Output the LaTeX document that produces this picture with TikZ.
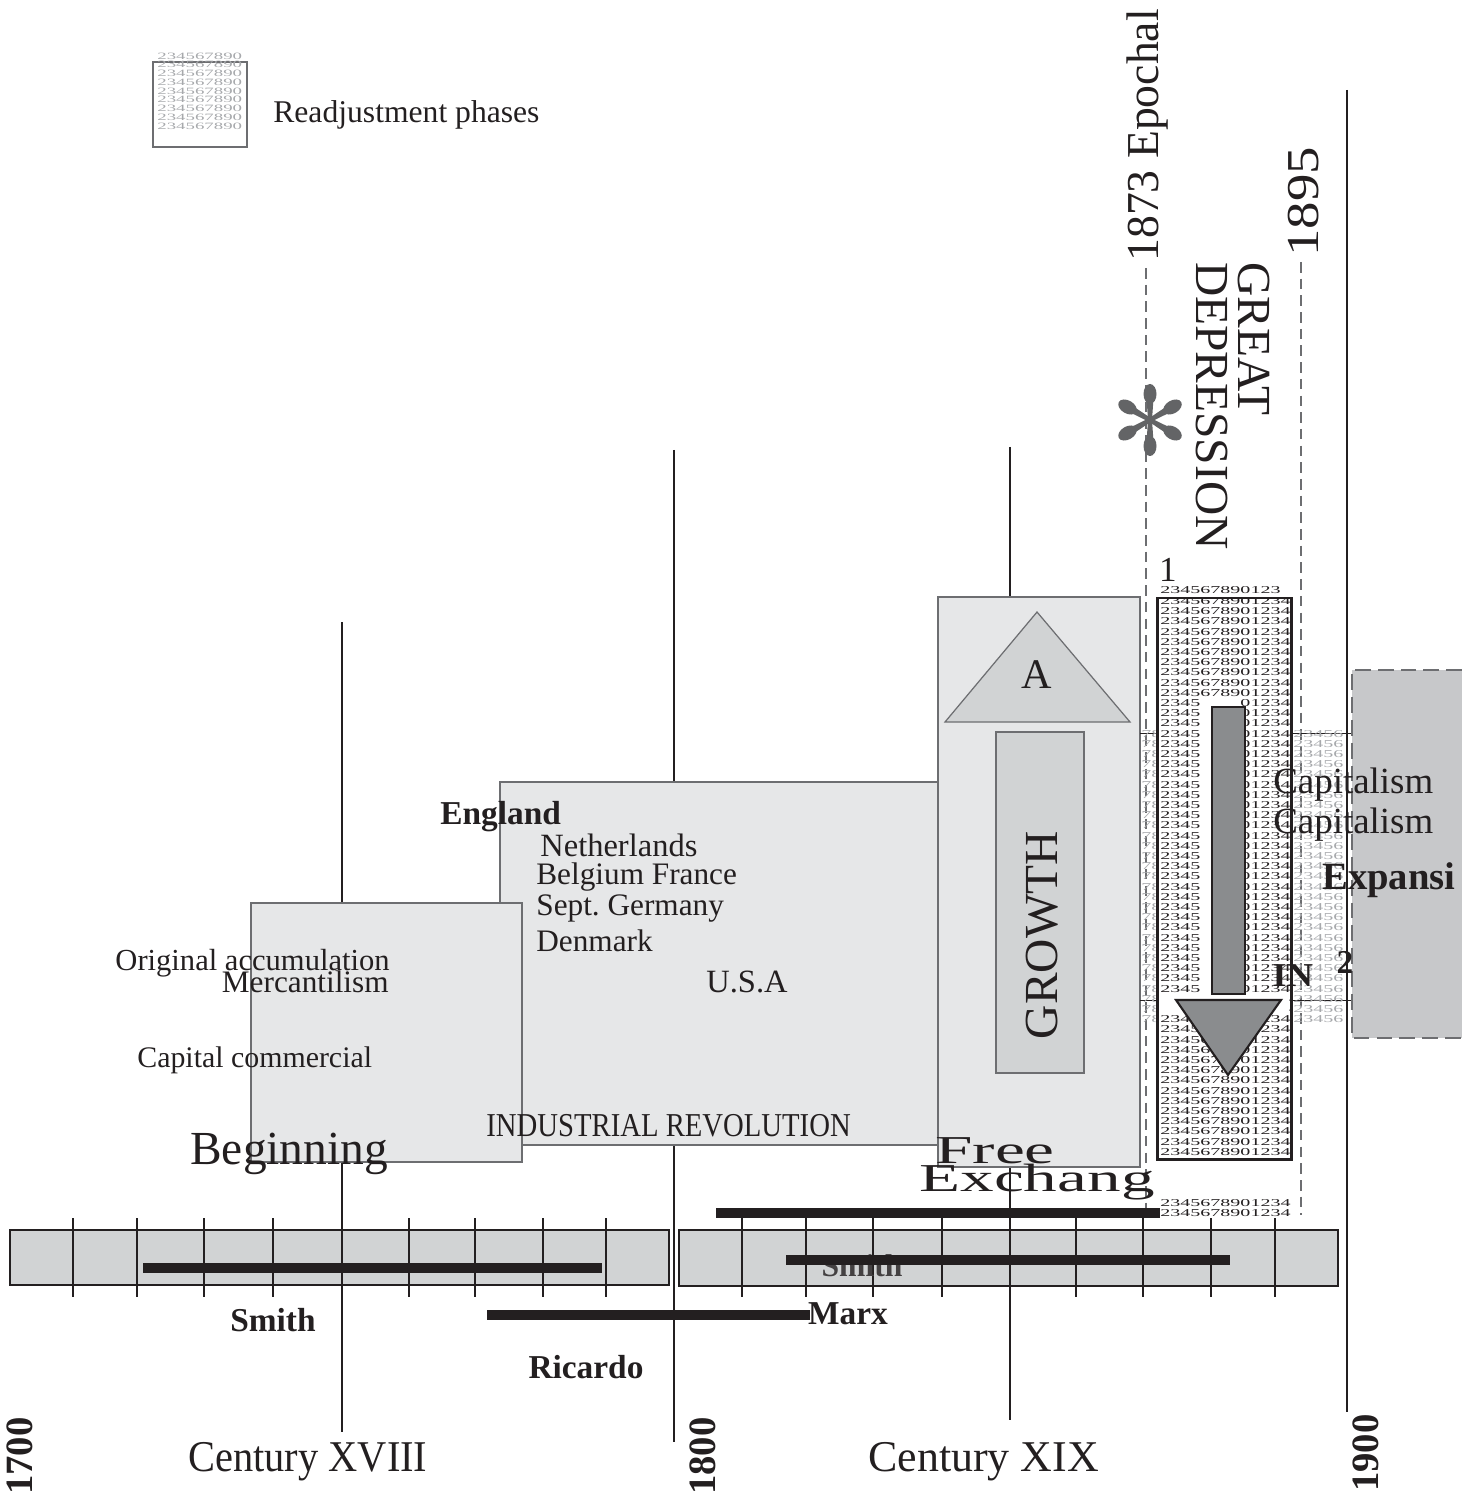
\documentclass[tikz,border=0pt]{standalone}
\usepackage{fontspec}
\setmainfont{Liberation Serif}
\newcommand{\fsz}[1]{\fontsize{#1}{#1}\selectfont}
\newcommand{\wide}[2]{\scalebox{#1}[1]{#2}}
\definecolor{boxfill}{HTML}{E6E7E8}
\definecolor{barfill}{HTML}{D1D3D4}
\definecolor{edgegrey}{HTML}{6D6E71}
\definecolor{ink}{HTML}{231F20}
\definecolor{darkfill}{HTML}{8A8C8E}
\definecolor{capfill}{HTML}{C7C8CA}
\definecolor{hatchgrey}{HTML}{A7A9AC}
\definecolor{stargrey}{HTML}{636466}
\begin{document}
\begin{tikzpicture}[x=0.02cm, y=-0.02cm,
  txt/.style={inner sep=0pt, text=ink},
  guide/.style={ink, line width=0.7pt},
  panel/.style={draw=edgegrey, line width=0.7pt, fill=boxfill},
  innerpanel/.style={draw=edgegrey, line width=0.7pt, fill=barfill},
  era/.style={draw=ink, line width=1.6pt, fill=barfill},
  tick/.style={ink, line width=0.6pt},
  majortick/.style={ink, line width=1.6pt},
  lifespan/.style={ink, line width=5.6pt},
  datum/.style={edgegrey, line width=0.8pt, dash pattern=on 6pt off 3.5pt},
  hatchrow/.style={inner sep=0pt, anchor=west, font=\fsz{6}, text=ink},
  hatchfaint/.style={inner sep=0pt, anchor=west, font=\fsz{6}, text=hatchgrey},
  legendrow/.style={inner sep=0pt, anchor=west, font=\fsz{5.5}, text=hatchgrey},
  bigname/.style={txt, font=\fsz{19}\bfseries},
]
\useasboundingbox (0,0) rectangle (1462,1506);

% ---------- legend ----------
\draw[edgegrey, line width=0.8pt] (153,62) rectangle (247,147);
\foreach \i in {0,...,8}
  \node[legendrow] (leg\i) at (157,{56+8.75*\i}) {\wide{1.95}{234567890}};
\node[txt, anchor=west, font=\fsz{18}] (legtext) at (273,115) {Readjustment phases};

% ---------- century guide lines ----------
\draw[guide] (342,622) -- (342,1432);
\draw[guide] (674,450) -- (674,1442);
\draw[guide] (1010,447) -- (1010,1420);
\draw[guide] (1347,90) -- (1347,1412);

% ---------- phases ----------
\draw[panel] (500,782) rectangle (938,1145);
\draw[panel] (251,903) rectangle (522,1162);
\draw[panel] (938,597) rectangle (1140,1167);
\draw[innerpanel] (945,722) -- (1037,612) -- (1130,722) -- cycle;
\node[txt, font=\fsz{24}] (upA) at (1037,675) {A};
\draw[innerpanel] (996,732) rectangle (1084,1073);
\node[txt, rotate=90, font=\fsz{27}] (growth) at (1042,935) {GROWTH};

% ---------- 1873 / 1895 markers ----------
\draw[datum] (1146,268) -- (1146,1218);
\draw[datum] (1301,262) -- (1301,1215);
\node[txt, rotate=90, anchor=base west, font=\fsz{26}] (epochal) at (1158,262) {1873 Epochal};
\node[txt, rotate=90, anchor=base west, font=\fsz{26}] (y1895) at (1318,257) {\wide{1.2}{1895}};
\node[txt, rotate=-90, anchor=base west, font=\fsz{27}] (great) at (1238,262) {GREAT};
\node[txt, rotate=-90, anchor=base west, font=\fsz{27}] (depression) at (1196,262) {DEPRESSION};

% asterisk on the 1873 line
\begin{scope}[shift={(1150,420)}]
  \foreach \a in {90,30,-30,-90,-150,150} {
    \fill[stargrey, rotate=\a] (0,-2) -- (22,-3.5) -- (22,3.5) -- (0,2) -- cycle;
    \fill[stargrey, rotate=\a] (26,0) ellipse [x radius=10, y radius=6.5];
  }
  \fill[stargrey] (0,0) circle [radius=4];
\end{scope}

% ---------- faint readjustment band ----------
\draw[ink, line width=0.5pt] (1140,733) -- (1352,733);
\draw[ink, line width=0.5pt] (1140,1000) -- (1352,1000);
\foreach \i in {13,...,41} {
  \node[hatchfaint] (fl\i) at (1141,{601+10.2*\i}) {\wide{1.9}{78}};
  \node[hatchfaint] (fr\i) at (1293,{601+10.2*\i}) {\wide{1.9}{23456}};
}

% ---------- first readjustment phase ----------
\node[txt, font=\fsz{20}] (one) at (1168,570) {1};
\node[hatchrow] (toprow) at (1160,590) {\wide{1.9}{234567890123}};
\fill[white] (1157,598) rectangle (1291,1159);
\foreach \i in {0,...,54}
  \node[hatchrow] (r\i) at (1160,{601+10.2*\i}) {\wide{1.9}{2345678901234}};
\fill[white] (1201,697) rectangle (1240,996);
\fill[white] (1159,993) rectangle (1289,1014);
\draw[ink, line width=1.7pt] (1157,598) rectangle (1291,1159);
\draw[ink, line width=1.2pt, fill=darkfill] (1212,707) rectangle (1245,994);
\draw[ink, line width=1.2pt, fill=darkfill] (1176,1000) -- (1281,1000) -- (1228,1075) -- cycle;
\node[hatchrow] (low1) at (1160,1203) {\wide{1.9}{2345678901234}};
\node[hatchrow] (low2) at (1160,1213) {\wide{1.9}{2345678901234}};

% ---------- capitalism expansion ----------
\fill[capfill] (1352,670) rectangle (1462,1038);
\draw[edgegrey, line width=0.8pt, dash pattern=on 9pt off 4pt] (1462,670) -- (1352,670) -- (1352,1038) -- (1462,1038);
\node[txt, anchor=west, font=\fsz{21}] (cap1) at (1273,785) {Capitalism};
\node[txt, anchor=west, font=\fsz{21}] (cap2) at (1273,825) {Capitalism};
\node[txt, anchor=west, font=\fsz{22}\bfseries] (expansi) at (1322,880) {Expansi};
\node[txt, font=\fsz{19}\bfseries] (two) at (1345,962) {2};
\node[txt, anchor=west, font=\fsz{19}\bfseries] (inlbl) at (1272,976) {\wide{1.1}{IN}};

% ---------- labels of the phases ----------
\node[txt, anchor=west, font=\fsz{19}\bfseries] (england) at (440,817) {England};
\node[txt, anchor=west, font=\fsz{18.5}] (nl) at (540,845) {Netherlands};
\node[txt, anchor=west, font=\fsz{17.8}] (be) at (536,877) {Belgium France};
\node[txt, anchor=west, font=\fsz{17.8}] (de) at (536,909) {Sept.\ Germany};
\node[txt, anchor=west, font=\fsz{17.8}] (dk) at (536,941) {Denmark};
\node[txt, anchor=west, font=\fsz{18.5}] (usa) at (706,982) {U.S.A};
\node[txt, anchor=east, font=\fsz{17.4}] (orig) at (390,963) {Original accumulation};
\node[txt, anchor=east, font=\fsz{17.8}] (merc) at (389,982) {Mercantilism};
\node[txt, anchor=west, font=\fsz{17}] (capcom) at (137,1060) {Capital commercial};
\node[txt, anchor=west, font=\fsz{19}] (indrev) at (486,1126) {\wide{0.86}{INDUSTRIAL REVOLUTION}};
\node[txt, anchor=west, font=\fsz{27}] (beginning) at (190,1154) {Beginning};
\node[txt, anchor=base, font=\fsz{22.5}] (free) at (995,1163) {\wide{1.7}{Free}};
\node[txt, anchor=base, font=\fsz{22.5}] (exchang) at (1037,1191) {\wide{1.7}{Exchang}};

% ---------- time axis ----------
\draw[era] (10,1230) rectangle (669,1285);
\draw[era] (679,1230) rectangle (1338,1286);
\foreach \x in {73,137,204,273,409,475,543,606,742,806,873,942,1076,1143,1211,1275}
  \draw[tick] (\x,1218) -- (\x,1297);
\draw[majortick] (342,1205) -- (342,1302);
\draw[majortick] (1010,1205) -- (1010,1302);
\node[txt, font=\fsz{18}\bfseries, text=ink!85] (smithhidden) at (862,1266) {Smith};

\coordinate (smithA) at (143,1268);  \coordinate (smithB) at (602,1268);
\coordinate (ricA) at (487,1315);    \coordinate (ricB) at (810,1315);
\coordinate (marxA) at (716,1213);   \coordinate (marxB) at (1160,1213);
\coordinate (midA) at (786,1260);    \coordinate (midB) at (1230,1260);
\draw[lifespan] (smithA) -- (smithB);
\draw[lifespan] (ricA) -- (ricB);
\draw[lifespan] (marxA) -- (marxB);
\draw[lifespan] (midA) -- (midB);

\node[bigname] (smith) at (273,1320) {Smith};
\node[bigname] (ricardo) at (586,1367) {Ricardo};
\node[bigname] (marx) at (848,1314) {Marx};

\node[txt, rotate=90, font=\fsz{22}\bfseries] (y1700) at (20,1456) {1700};
\node[txt, rotate=90, font=\fsz{22}\bfseries] (y1800) at (703,1456) {1800};
\node[txt, rotate=90, font=\fsz{22}\bfseries] (y1900) at (1366,1453) {1900};
\node[txt, anchor=west, font=\fsz{25}] (c18) at (188,1462) {\wide{0.92}{Century XVIII}};
\node[txt, anchor=west, font=\fsz{25}] (c19) at (868,1462) {Century XIX};
\end{tikzpicture}
\end{document}
